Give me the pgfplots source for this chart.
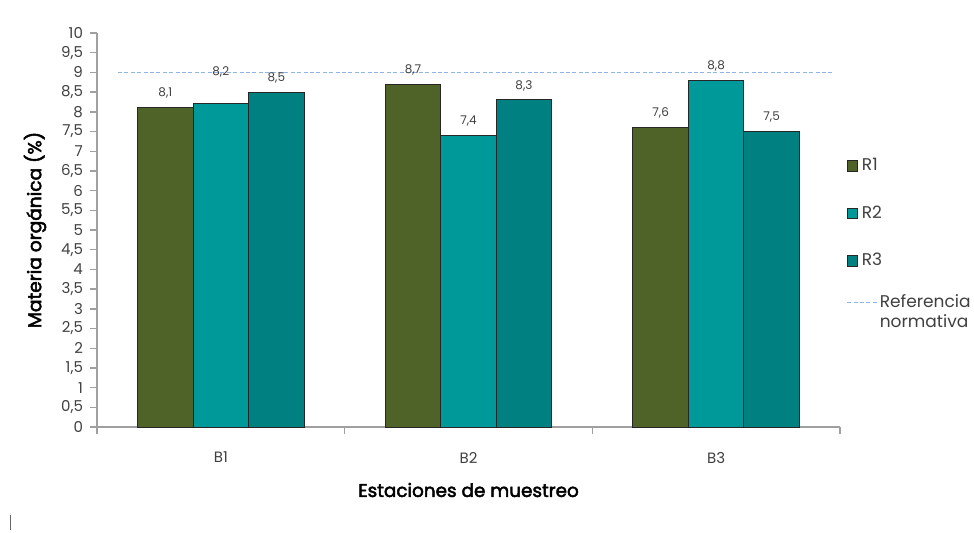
\documentclass[border=0pt]{standalone}
\usepackage{pgfplots}
\pgfplotsset{compat=1.18}
\usepackage{fontspec}
\setmainfont{Poppins}
\newfontfamily\labelfont{Poppins}[FakeBold=2.6]

\definecolor{rone}{HTML}{4F6228}
\definecolor{rtwo}{HTML}{009999}
\definecolor{rthree}{HTML}{008080}
\definecolor{refline}{HTML}{8DB4E2}
\definecolor{tickgray}{HTML}{404040}
\definecolor{axisgray}{HTML}{A0A0A0}

\pgfplotsset{
  sqlegend/.style={legend image code/.code={%
    \draw[##1,line width=0.4pt] (0pt,-2.6pt) rectangle (5.2pt,2.6pt);}},
  linelegend/.style={legend image code/.code={%
    \draw[##1] (0pt,3.5pt) -- (15pt,3.5pt);}},
  barstyle/.style={ybar, draw=black!85, line width=0.5pt, bar width=0.224,
    bar shift=0pt, sqlegend},
}

\begin{document}
\begin{tikzpicture}
\useasboundingbox (0,0) rectangle (487pt,266pt);
\begin{axis}[
  scale only axis, width=371.5pt, height=197pt,
  at={(48.5pt,52.5pt)}, anchor=south west,
  xmin=-0.5, xmax=2.5, ymin=0, ymax=10,
  axis lines=left,
  axis line style={-, draw=axisgray, line width=0.7pt},
  tick align=outside,
  major tick length=3.5pt,
  tick style={draw=axisgray, line width=0.7pt},
  ytick distance=0.5,
  xtick={-0.5,0.5,1.5,2.5},
  xticklabels={},
  extra x ticks={0,1,2},
  extra x tick labels={B1,B2,B3},
  extra x tick style={major tick length=0pt,
    tick label style={yshift=-9pt}},
  /pgf/number format/assume math mode=true,
  /pgf/number format/use comma,
  tick label style={font=\fontsize{7.5}{8}\selectfont, text=tickgray},
  ylabel={\labelfont\fontsize{9.3}{11}\selectfont Materia orgánica (\%)},
  xlabel={\labelfont\fontsize{9.2}{11}\selectfont Estaciones de muestreo},
  every axis y label/.style={at={(axis description cs:0,0.5)},
    xshift=-31pt, rotate=90, anchor=center, text=black},
  every axis x label/.style={at={(axis description cs:0.5,0)},
    yshift=-31.5pt, anchor=center, text=black},
  nodes near coords={\pgfmathprintnumber[fixed,fixed zerofill,precision=1,use comma]{\pgfplotspointmeta}},
  every node near coord/.append style={font=\fontsize{6}{7}\selectfont,
    text=tickgray, yshift=1pt},
  legend style={at={(axis description cs:1.0,0.698)}, anchor=north west,
    draw=none, fill=none, font=\fontsize{8.5}{10}\selectfont,
    row sep=14pt, nodes={inner sep=1pt, text=tickgray}},
  legend cell align=left,
  clip=false,
]
% bars are centred on station index (0,1,2) plus their offset in the group
\addplot[barstyle, fill=rone]
  coordinates {(-0.224,8.1) (0.776,8.7) (1.776,7.6)};
\addplot[barstyle, fill=rtwo, coordinate style/.condition={x==0}{yshift=9pt}]
  coordinates {(0,8.2) (1,7.4) (2,8.8)};
\addplot[barstyle, fill=rthree]
  coordinates {(0.224,8.5) (1.224,8.3) (2.224,7.5)};
% normative reference level
\addplot[refline, line width=0.7pt, dash pattern=on 2pt off 1.2pt,
  nodes near coords={}, sharp plot, mark=none, linelegend]
  coordinates {(-0.415,9) (2.47,9)};
\legend{\hspace*{-9pt}R1,\hspace*{-9pt}R2,\hspace*{-9pt}R3,
  {\raisebox{3.5pt}[\height][\depth]{\begin{tabular}[t]{@{}l@{}}Referencia\\normativa\end{tabular}}}}
\end{axis}
\draw[black!60, line width=0.5pt] (5pt,1pt) -- (5pt,8.5pt);
\end{tikzpicture}
\end{document}
